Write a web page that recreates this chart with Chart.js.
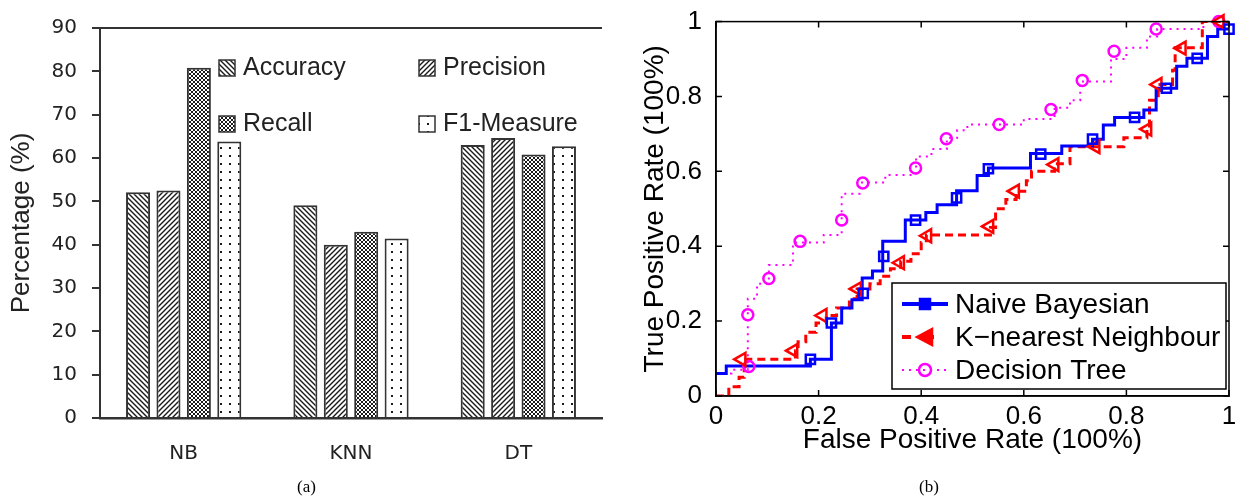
<!DOCTYPE html>
<html>
<head>
<meta charset="utf-8">
<script src="https://cdn.jsdelivr.net/npm/chart.js@4.4.0/dist/chart.umd.min.js"></script>
<style>
  body { margin: 0; background: #fff; width: 1241px; height: 499px; overflow: hidden; position: relative; }
  canvas { position: absolute; top: 0; }
  #barChart { left: 0; }
  #rocChart { left: 620px; }
  .cap { position: absolute; top: 477px; font: 17px "Liberation Serif", serif; color: #000; }
</style>
</head>
<body>
<canvas id="barChart" width="620" height="499"></canvas>
<canvas id="rocChart" width="621" height="499"></canvas>
<div class="cap" style="left:297px">(a)</div>
<div class="cap" style="left:919px">(b)</div>
<script>
// (a) classifier scores, percent
const classifiers = ['NB', 'KNN', 'DT'];
const accuracy = [52.1, 49.1, 63.0];
const precision = [52.5, 40.0, 64.6];
const recall = [80.8, 43.0, 60.8];
const f1Measure = [63.8, 41.4, 62.7];

// (b) ROC curves, [false positive rate, true positive rate]
const rocTicks = [0, 0.2, 0.4, 0.6, 0.8, 1];
const nbSteps = [[0, 0.06], [0.02, 0.08], [0.184, 0.098], [0.225, 0.195], [0.245, 0.235], [0.265, 0.257],
  [0.285, 0.274], [0.285, 0.315], [0.305, 0.334], [0.325, 0.373], [0.325, 0.413], [0.369, 0.47],
  [0.409, 0.49], [0.431, 0.511], [0.469, 0.529], [0.469, 0.548], [0.509, 0.589], [0.531, 0.609],
  [0.613, 0.648], [0.674, 0.668], [0.734, 0.686], [0.755, 0.724], [0.777, 0.744], [0.834, 0.764],
  [0.858, 0.822], [0.898, 0.881], [0.918, 0.902], [0.958, 0.96], [0.978, 0.98], [1.0, 0.98]];
const nbMarks = [[0.184, 0.098], [0.225, 0.195], [0.287, 0.274], [0.327, 0.373], [0.389, 0.47],
  [0.469, 0.529], [0.531, 0.607], [0.633, 0.646], [0.734, 0.686], [0.816, 0.744], [0.878, 0.822],
  [0.938, 0.902], [1.0, 0.98]];
const knnSteps = [[0, 0], [0.025, 0.025], [0.045, 0.05], [0.055, 0.098], [0.155, 0.121], [0.16, 0.145],
  [0.175, 0.17], [0.195, 0.195], [0.215, 0.215], [0.235, 0.235], [0.26, 0.26], [0.275, 0.286],
  [0.3, 0.3], [0.32, 0.32], [0.34, 0.34], [0.36, 0.36], [0.38, 0.38], [0.4, 0.41], [0.41, 0.43],
  [0.535, 0.45], [0.545, 0.5], [0.565, 0.525], [0.585, 0.547], [0.605, 0.575], [0.615, 0.6],
  [0.66, 0.62], [0.69, 0.666], [0.795, 0.69], [0.84, 0.715], [0.845, 0.79], [0.862, 0.832],
  [0.89, 0.87], [0.895, 0.93], [0.948, 1.0], [1.0, 1.0]];
const knnMarks = [[0.05, 0.098], [0.151, 0.121], [0.208, 0.215], [0.275, 0.286], [0.359, 0.356],
  [0.412, 0.428], [0.533, 0.453], [0.583, 0.547], [0.66, 0.618], [0.74, 0.666], [0.841, 0.713],
  [0.861, 0.832], [0.908, 0.929], [0.982, 1.0]];
const dtSteps = [[0, 0.06], [0.03, 0.07], [0.062, 0.08], [0.062, 0.26], [0.08, 0.3], [0.103, 0.35],
  [0.145, 0.35], [0.15, 0.41], [0.21, 0.43], [0.245, 0.47], [0.245, 0.54], [0.28, 0.57], [0.33, 0.59],
  [0.39, 0.61], [0.39, 0.64], [0.42, 0.66], [0.45, 0.69], [0.47, 0.71], [0.49, 0.725], [0.6, 0.74],
  [0.66, 0.77], [0.69, 0.79], [0.71, 0.84], [0.76, 0.84], [0.77, 0.9], [0.8, 0.93], [0.84, 0.96],
  [0.86, 0.98], [0.95, 1.0], [1.0, 1.0]];
const dtMarks = [[0.064, 0.079], [0.062, 0.217], [0.103, 0.314], [0.164, 0.413], [0.245, 0.47],
  [0.286, 0.569], [0.389, 0.609], [0.449, 0.687], [0.552, 0.725], [0.653, 0.765], [0.714, 0.843],
  [0.776, 0.921], [0.858, 0.98], [0.98, 1.0]];

// hatch fills for the bars
function hatch(kind) {
  const c = document.createElement('canvas');
  const w = kind === 'dots' ? 9 : (kind === 'cross' ? 4 : 5);
  const h = kind === 'dots' ? 8 : w;
  c.width = w; c.height = h;
  const g = c.getContext('2d');
  g.fillStyle = '#fff';
  g.fillRect(0, 0, w, h);
  g.strokeStyle = '#1a1a1a';
  g.fillStyle = '#1a1a1a';
  g.lineWidth = kind === 'cross' ? 1 : 1.4;
  g.beginPath();
  if (kind === 'back' || kind === 'cross') {
    g.moveTo(-1, -1); g.lineTo(w + 1, h + 1);
    g.moveTo(-1, h - 1); g.lineTo(1, h + 1);
    g.moveTo(w - 1, -1); g.lineTo(w + 1, 1);
  }
  if (kind === 'fwd' || kind === 'cross') {
    g.moveTo(-1, h + 1); g.lineTo(w + 1, -1);
    g.moveTo(-1, 1); g.lineTo(1, -1);
    g.moveTo(w - 1, h + 1); g.lineTo(w + 1, h - 1);
  }
  g.stroke();
  if (kind === 'dots') g.fillRect(4, 3, 2, 2);
  return g.createPattern(c, 'repeat');
}

const fills = [hatch('back'), hatch('fwd'), hatch('cross'), hatch('dots')];

const barLegend = {
  id: 'barLegend',
  afterDraw(chart) {
    const { ctx, chartArea: a } = chart;
    ctx.save();
    ctx.strokeStyle = '#333';
    ctx.lineWidth = 2;
    ctx.beginPath();
    ctx.moveTo(a.left, a.top);
    ctx.lineTo(a.right, a.top);
    ctx.stroke();
    ctx.font = '25px "Liberation Sans", Arial, sans-serif';
    ctx.textBaseline = 'middle';
    chart.data.datasets.forEach((ds, i) => {
      const bx = a.left + 119 + (i % 2) * 200;
      const by = a.top + 32 + Math.floor(i / 2) * 56;
      ctx.fillStyle = ds.backgroundColor;
      ctx.fillRect(bx, by, 16, 16);
      ctx.lineWidth = 1.5;
      ctx.strokeRect(bx, by, 16, 16);
      ctx.fillStyle = '#222';
      ctx.fillText(ds.label, bx + 24, by + 8);
    });
    ctx.restore();
  }
};

new Chart(document.getElementById('barChart'), {
  type: 'bar',
  data: {
    labels: classifiers,
    datasets: [
      { label: 'Accuracy', data: accuracy, backgroundColor: fills[0] },
      { label: 'Precision', data: precision, backgroundColor: fills[1] },
      { label: 'Recall', data: recall, backgroundColor: fills[2] },
      { label: 'F1-Measure', data: f1Measure, backgroundColor: fills[3] },
    ],
  },
  options: {
    responsive: false,
    animation: false,
    events: [],
    layout: { padding: { left: 0, right: 18, top: 28, bottom: 0 } },
    datasets: {
      bar: { borderColor: '#333', borderWidth: 2, categoryPercentage: 0.727, barPercentage: 0.79 },
    },
    plugins: { legend: { display: false }, tooltip: { enabled: false } },
    scales: {
      x: {
        grid: { display: false },
        border: { display: true, color: '#333', width: 2.5 },
        ticks: { color: '#222', padding: 16, font: { family: 'DejaVu Sans', size: 20 } },
        afterFit: s => { s.height = 81; },
      },
      y: {
        min: 0,
        max: 90,
        ticks: { stepSize: 10, color: '#222', padding: 15, font: { family: 'DejaVu Sans', size: 20 } },
        grid: { display: true, drawOnChartArea: false, drawTicks: true, tickLength: 8, color: '#333', lineWidth: 2 },
        border: { display: true, color: '#333', width: 2 },
        title: {
          display: true,
          text: 'Percentage (%)',
          color: '#222',
          padding: { top: 6, bottom: 0 },
          font: { family: 'Liberation Sans', size: 26 },
        },
        afterFit: s => { s.width = 100; },
      },
    },
  },
  plugins: [barLegend],
});

// ROC panel
const pts = pairs => pairs.map(p => ({ x: p[0], y: p[1] }));
const rocNames = ['Naive Bayesian', 'K\u2212nearest Neighbour', 'Decision Tree'];
const rocColors = ['#0000ff', '#ff0000', '#ff00ff'];

function drawMark(ctx, kind, cx, cy, color, filled) {
  ctx.save();
  ctx.strokeStyle = color;
  ctx.fillStyle = color;
  ctx.lineWidth = 2.5;
  ctx.setLineDash([]);
  ctx.beginPath();
  if (kind === 'rect') ctx.rect(cx - 5, cy - 5, 10, 10);
  else if (kind === 'triangle') { ctx.moveTo(cx - 8, cy); ctx.lineTo(cx + 7, cy - 8); ctx.lineTo(cx + 7, cy + 8); ctx.closePath(); }
  else ctx.arc(cx, cy, 6, 0, Math.PI * 2);
  if (filled) ctx.fill();
  ctx.stroke();
  ctx.restore();
}

const rocFrame = {
  id: 'rocFrame',
  afterDraw(chart) {
    const { ctx, chartArea: a, scales: { x, y } } = chart;
    ctx.save();
    ctx.strokeStyle = '#000';
    ctx.lineWidth = 1.5;
    ctx.strokeRect(a.left, a.top, a.right - a.left, a.bottom - a.top);
    ctx.beginPath();
    rocTicks.forEach(v => {
      const px = x.getPixelForValue(v), py = y.getPixelForValue(v);
      ctx.moveTo(px, a.bottom); ctx.lineTo(px, a.bottom - 6);
      ctx.moveTo(px, a.top); ctx.lineTo(px, a.top + 6);
      ctx.moveTo(a.left, py); ctx.lineTo(a.left + 6, py);
      ctx.moveTo(a.right, py); ctx.lineTo(a.right - 6, py);
    });
    ctx.stroke();

    // legend box
    const lx = a.right - 337, ly = a.bottom - 113;
    ctx.fillStyle = '#fff';
    ctx.fillRect(lx, ly, 334, 106);
    ctx.lineWidth = 1.5;
    ctx.strokeRect(lx, ly, 334, 106);
    const styles = [
      { dash: [], width: 4, mark: 'rect', filled: true },
      { dash: [9, 14], width: 4, mark: 'triangle', filled: true },
      { dash: [2, 5], width: 2, mark: 'circle', filled: false },
    ];
    ctx.font = '28px "Liberation Sans", Arial, sans-serif';
    ctx.textBaseline = 'middle';
    rocNames.forEach((name, i) => {
      const ry = ly + 21 + i * 33;
      const st = styles[i];
      ctx.strokeStyle = rocColors[i];
      ctx.lineWidth = st.width;
      ctx.setLineDash(st.dash);
      ctx.beginPath();
      ctx.moveTo(lx + 10, ry);
      ctx.lineTo(lx + 56, ry);
      ctx.stroke();
      ctx.setLineDash([]);
      drawMark(ctx, st.mark, lx + 33, ry, rocColors[i], st.filled);
      ctx.fillStyle = '#000';
      ctx.fillText(name, lx + 63, ry + 1);
    });
    ctx.restore();
  }
};

const markSet = (pairs, color, style, rot, radius) => ({
  data: pts(pairs), showLine: false, clip: false, pointStyle: style, pointRotation: rot,
  pointRadius: radius, pointBorderWidth: 2.5, pointBorderColor: color, pointBackgroundColor: 'rgba(0,0,0,0)',
});

new Chart(document.getElementById('rocChart'), {
  type: 'line',
  data: {
    datasets: [
      markSet(nbMarks, rocColors[0], 'rect', 0, 6.5),
      markSet(knnMarks, rocColors[1], 'triangle', -90, 7.5),
      markSet(dtMarks, rocColors[2], 'circle', 0, 5.5),
      { label: rocNames[0], data: pts(nbSteps), stepped: 'before', borderColor: rocColors[0], borderWidth: 3, pointRadius: 0 },
      { label: rocNames[1], data: pts(knnSteps), stepped: 'before', borderColor: rocColors[1], borderWidth: 3, borderDash: [8, 5], pointRadius: 0 },
      { label: rocNames[2], data: pts(dtSteps), stepped: 'before', borderColor: rocColors[2], borderWidth: 2, borderDash: [2, 5], pointRadius: 0 },
    ],
  },
  options: {
    responsive: false,
    animation: false,
    events: [],
    layout: { padding: { left: 0, right: 12, top: 17, bottom: 0 } },
    plugins: { legend: { display: false }, tooltip: { enabled: false } },
    scales: {
      x: {
        type: 'linear',
        min: 0,
        max: 1,
        grid: { display: false },
        border: { display: true, color: '#000', width: 1.5 },
        ticks: { stepSize: 0.2, color: '#000', padding: -3, font: { family: 'Liberation Sans', size: 26 },
          callback: v => +v.toFixed(1) },
        title: {
          display: true,
          text: 'False Positive Rate (100%)',
          color: '#000',
          padding: { top: 0, bottom: 42 },
          font: { family: 'Liberation Sans', size: 28 },
        },
        afterFit: s => { s.height = 103; },
      },
      y: {
        min: 0,
        max: 1,
        grid: { display: false },
        border: { display: true, color: '#000', width: 1.5 },
        ticks: { stepSize: 0.2, color: '#000', padding: 6, font: { family: 'Liberation Sans', size: 26 },
          callback: v => +v.toFixed(1) },
        title: {
          display: true,
          text: 'True Positive Rate (100%)',
          color: '#000',
          padding: { top: 18, bottom: 0 },
          font: { family: 'Liberation Sans', size: 28 },
        },
        afterFit: s => { s.width = 96; },
      },
    },
  },
  plugins: [rocFrame],
});
</script>
</body>
</html>
